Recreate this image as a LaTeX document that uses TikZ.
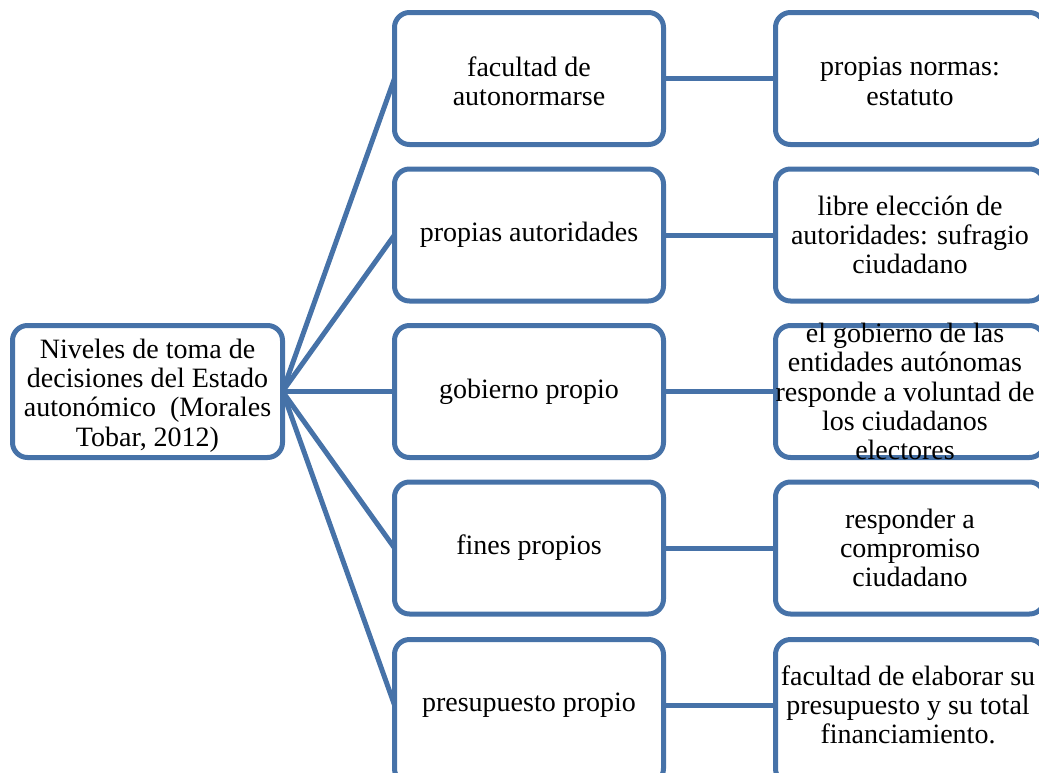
\documentclass[tikz,border=0pt]{standalone}
\usepackage{fontspec}
\setmainfont{Liberation Serif}
\definecolor{smartblue}{RGB}{70,114,168}
\begin{document}
\begin{tikzpicture}[x=1pt,y=-1pt,
  box/.style={draw=smartblue, line width=5pt, fill=white, rounded corners=15pt,
    minimum width=269pt, minimum height=132pt, inner sep=0pt, outer sep=0pt},
  txt/.style={align=center, font=\fontsize{28}{29.3}\selectfont, inner sep=0pt},
  link/.style={draw=smartblue, line width=5pt}]
\useasboundingbox (0,0) rectangle (1039,772);
\clip (0,0) rectangle (1039,772);
% boxes
\node[box, minimum width=270pt] (L) at (147.5,391.5) {};
\node[box] (m1) at (529,78.5) {};
\node[box] (m2) at (529,235) {};
\node[box] (m3) at (529,391.5) {};
\node[box] (m4) at (529,548) {};
\node[box, minimum height=144pt] (m5) at (529,711.5) {};
\node[box] (r1) at (910,78.5) {};
\node[box] (r2) at (910,235) {};
\node[box] (r3) at (910,391.5) {};
\node[box] (r4) at (910,548) {};
\node[box, minimum height=144pt] (r5) at (910,711.5) {};
\coordinate (m5w) at (m5.west |- 0,705);
\coordinate (m5e) at (m5.east |- 0,705);
\coordinate (r5w) at (r5.west |- 0,705);
% connectors
\foreach \i in {1,...,4}{
  \draw[link] (L.east) -- (m\i.west);
  \draw[link] (m\i.east) -- (r\i.west);
}
\draw[link] (L.east) -- (m5w);
\draw[link] (m5e) -- (r5w);
% texts
\node[txt] (Lt) at ([yshift=-4pt]L.center) {Niveles de toma de\\decisiones del Estado\\autonómico\ \ (Morales\\Tobar, 2012)};
\node[txt] (m1t) at ([yshift=-3pt]m1.center) {facultad de\\autonormarse};
\node[txt] (m2t) at (m2.center) {propias autoridades};
\node[txt] (m3t) at (m3.center) {gobierno propio};
\node[txt] (m4t) at (m4.center) {fines propios};
\node[txt] (m5t) at (529,705) {presupuesto propio};
\node[txt] (r1t) at ([yshift=-3pt]r1.center) {propias normas:\\estatuto};
\node[txt] (r2t) at (r2.center) {libre elección de\\autoridades: sufragio\\ciudadano};
\node[txt] (r3t) at ([xshift=-5pt]r3.center) {el gobierno de las\\entidades autónomas\\responde a voluntad de\\los ciudadanos\\electores};
\node[txt] (r4t) at (r4.center) {responder a\\compromiso\\ciudadano};
\node[txt] (r5t) at (908,705) {facultad de elaborar su\\presupuesto y su total\\financiamiento.};
\end{tikzpicture}
\end{document}
